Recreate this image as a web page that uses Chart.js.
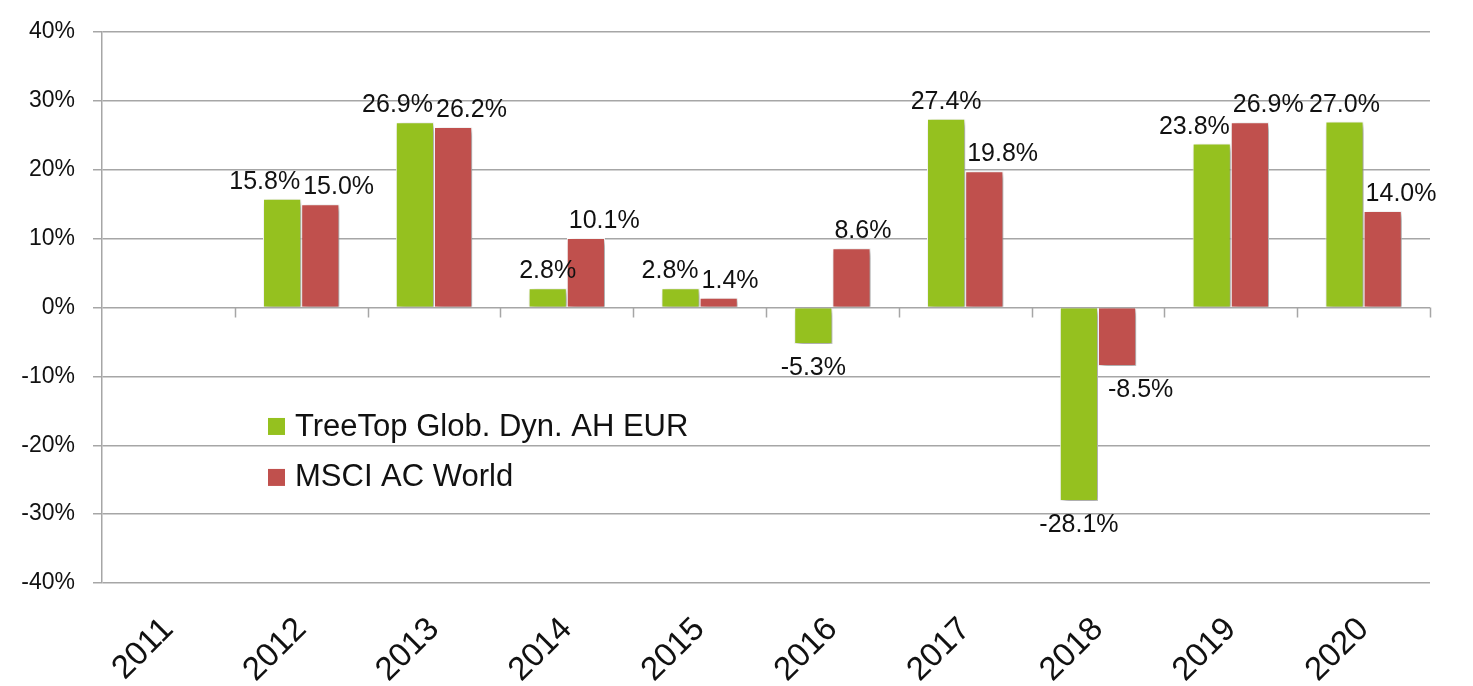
<!DOCTYPE html>
<html>
<head>
<meta charset="utf-8">
<script src="https://cdn.jsdelivr.net/npm/chart.js@4.4.1/dist/chart.umd.min.js"></script>
<style>
  html, body { margin: 0; padding: 0; background: #fff; }
  #wrap { width: 1473px; height: 686px; position: relative; }
</style>
</head>
<body>
<div id="wrap"><canvas id="c"></canvas></div>
<script>
const years = ['2011', '2012', '2013', '2014', '2015', '2016', '2017', '2018', '2019', '2020'];
const treeTop = [null, 15.8, 26.9, 2.8, 2.8, -5.3, 27.4, -28.1, 23.8, 27.0];
const msciWorld = [null, 15.0, 26.2, 10.1, 1.4, 8.6, 19.8, -8.5, 26.9, 14.0];
const seriesNames = ['TreeTop Glob. Dyn. AH EUR', 'MSCI AC World'];
const yMin = -40, yMax = 40, yStep = 10;

const GREEN = '#95C11F';
const RED = '#C0504D';
const GRID = '#a6a6a6';
const FONT = '"Liberation Sans", Arial, sans-serif';

const shadowPlugin = {
  id: 'barShadow',
  beforeDatasetsDraw(chart) {
    const ctx = chart.ctx;
    ctx.save();
    ctx.shadowColor = 'rgba(0,0,0,0.4)';
    ctx.shadowBlur = 6;
    ctx.shadowOffsetX = 3;
    ctx.shadowOffsetY = 3;
  },
  afterDatasetsDraw(chart) {
    chart.ctx.restore();
  }
};

const zeroTicksPlugin = {
  id: 'zeroTicks',
  beforeDatasetsDraw(chart) {
    const ctx = chart.ctx;
    const xs = chart.scales.x, ys = chart.scales.y;
    const y0 = ys.getPixelForValue(0);
    const n = years.length;
    const w = (xs.right - xs.left) / n;
    ctx.save();
    ctx.strokeStyle = GRID;
    ctx.lineWidth = 1.5;
    for (let i = 1; i <= n; i++) {
      const x = Math.round(xs.left + i * w) + 0.5;
      ctx.beginPath();
      ctx.moveTo(x, y0);
      ctx.lineTo(x, y0 + 10);
      ctx.stroke();
    }
    ctx.restore();
  }
};

// Value labels: MSCI labels left-aligned on their bar, TreeTop labels centred
// and nudged left when they would collide with the MSCI label.
const labelPlugin = {
  id: 'valueLabels',
  afterDatasetsDraw(chart) {
    const ctx = chart.ctx;
    ctx.save();
    ctx.font = '25px ' + FONT;
    ctx.fillStyle = '#111';
    ctx.textBaseline = 'alphabetic';
    const H = 19;   // approx cap height
    const M = 24;   // collision box height
    const g = chart.getDatasetMeta(0).data;
    const r = chart.getDatasetMeta(1).data;
    for (let i = 0; i < years.length; i++) {
      const gv = treeTop[i], rv = msciWorld[i];
      let redBox = null;
      if (rv !== null && rv !== undefined) {
        const bar = r[i];
        const txt = rv.toFixed(1) + '%';
        const w = ctx.measureText(txt).width;
        const left = bar.x - bar.width / 2 + (rv < 0 ? 10 : 2);
        const base = rv >= 0 ? bar.y - 10 : bar.y + 12 + H;
        redBox = { l: left, r: left + w, t: base - M, b: base };
        ctx.fillText(txt, left, base);
      }
      if (gv !== null && gv !== undefined) {
        const bar = g[i];
        const txt = gv.toFixed(1) + '%';
        const w = ctx.measureText(txt).width;
        let left = bar.x - w / 2;
        const base = gv >= 0 ? bar.y - 10 : bar.y + 12 + H;
        if (redBox) {
          const overlapX = left + w > redBox.l && left < redBox.r;
          const overlapY = base > redBox.t && base - M < redBox.b;
          if (overlapX && overlapY) left = redBox.l - 3 - w;
        }
        ctx.fillText(txt, left, base);
      }
    }
    ctx.restore();
  }
};

const legendPlugin = {
  id: 'innerLegend',
  afterDatasetsDraw(chart) {
    const ctx = chart.ctx;
    const ys = chart.scales.y;
    const x0 = 268;
    const rows = [ys.getPixelForValue(-17.2), ys.getPixelForValue(-24.6)];
    const colors = [GREEN, RED];
    ctx.save();
    ctx.font = '31px ' + FONT;
    ctx.textBaseline = 'middle';
    ctx.textAlign = 'left';
    rows.forEach((y, i) => {
      ctx.fillStyle = colors[i];
      ctx.fillRect(x0, y - 8, 17, 17);
      ctx.fillStyle = '#111';
      ctx.fillText(seriesNames[i], x0 + 27, y + 1);
    });
    ctx.restore();
  }
};

new Chart(document.getElementById('c'), {
  type: 'bar',
  data: {
    labels: years,
    datasets: [
      { label: seriesNames[0], data: treeTop, backgroundColor: GREEN, borderColor: '#ffffff', borderWidth: 1 },
      { label: seriesNames[1], data: msciWorld, backgroundColor: RED, borderColor: '#ffffff', borderWidth: 1 }
    ]
  },
  options: {
    responsive: true,
    maintainAspectRatio: false,
    animation: false,
    layout: { padding: { top: 32, right: 43, left: 0, bottom: 0 } },
    datasets: { bar: { categoryPercentage: 0.575, barPercentage: 1.0 } },
    plugins: {
      legend: { display: false },
      tooltip: { enabled: false }
    },
    scales: {
      x: {
        grid: { display: false, drawTicks: false },
        border: { display: false },
        ticks: {
          maxRotation: 45, minRotation: 45, color: '#111', padding: 27,
          font: { size: 33, family: FONT }
        },
        afterFit(s) { s.height = 103; }
      },
      y: {
        min: yMin, max: yMax,
        ticks: {
          stepSize: yStep, color: '#111', padding: 18,
          font: { size: 23, family: FONT },
          callback: v => v + '%'
        },
        grid: { color: GRID, lineWidth: 1.5, tickLength: 9, drawTicks: true },
        border: { display: true, color: GRID, width: 1.5 },
        afterFit(s) { s.width = 102; }
      }
    }
  },
  plugins: [zeroTicksPlugin, shadowPlugin, labelPlugin, legendPlugin]
});
</script>
</body>
</html>
